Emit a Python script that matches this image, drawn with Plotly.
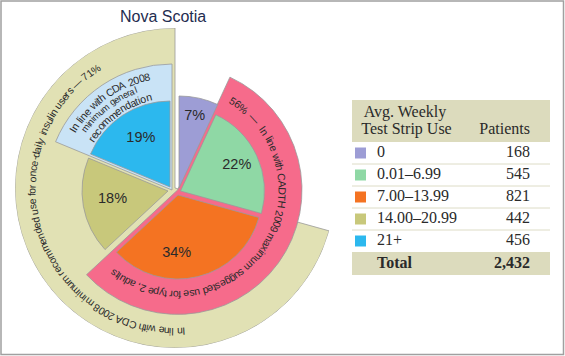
import numpy as np
import plotly.graph_objects as go

W, H = 565, 356

# ---------------- data ----------------
title = "Nova Scotia"
categories = ["0", "0.01–6.99", "7.00–13.99", "14.00–20.99", "21+"]
patients = [168, 545, 821, 442, 456]
slice_colors = ["#9d9dd5", "#8fd8a5", "#f47322", "#c8c87b", "#2cb8ee"]
header_left = ["Avg. Weekly", "Test Strip Use"]
header_right = "Patients"
total_label = "Total"
pink_group = [1, 2]          # CADTH 2009 maximum suggested use
khaki_group = [2, 3, 4]      # CDA 2008 once-daily insulin users
blue_group = [4]             # CDA 2008 general recommendation
pink_text = "{p}%  —  In line with CADTH 2009 maximum suggested use for type 2, adults"
khaki_text = "In line with CDA 2008 minimum recommended use for once-daily insulin users — {p}%"
blue_lines = ["In line with CDA 2008", "minimum general", "recommendation"]

# ---------------- derived ----------------
vals = np.array(patients, dtype=float)
total = vals.sum()
share = vals / total
cum = np.concatenate([[0.0], np.cumsum(share)]) * 360.0
starts, ends = cum[:-1], cum[1:]
mids = (starts + ends) / 2
widths = ends - starts


def group_span(idx):
    a0, a1 = starts[min(idx)], ends[max(idx)]
    return (a0 + a1) / 2, a1 - a0, share[idx].sum()


SANS = "Liberation Sans, Arial, sans-serif"
SERIF = "Liberation Serif, Times New Roman, serif"
TXT = "#2a2a2a"
EDGE = "#9a9a9a"
S = 160.0  # radial half-size of every polar subplot (px)

fig = go.Figure()
layout = {}


def domain(cx, cy):
    return dict(x=[max(0, (cx - S) / W), min(1, (cx + S) / W)],
                y=[max(0, 1 - (cy + S) / H), min(1, 1 - (cy - S) / H)])


layers = []
km, kw, ks = group_span(khaki_group)
bm, bw, bs = group_span(blue_group)
pm, pw, ps = group_span(pink_group)
layers.append(dict(c=(175, 188), R=160, th=km, w=kw, col="#e1e1b4"))
layers.append(dict(c=(172, 190), R=126, th=bm, w=bw, col="#c9e3f6"))
layers.append(dict(c=(177.6, 190), R=124.4, th=pm, w=pw, col="#f66b8b"))
# slices: center, radius, label radius, label angle offset
slice_geo = {3: ((168, 191), 86, 56, 2), 4: ((170, 187), 86, 57, 3),
             0: ((179, 188), 92, 73, 0), 1: ((180.5, 191), 84, 62, 0),
             2: ((178, 195), 84, 58, 15)}
for i in [3, 4, 0, 1, 2]:
    c, R, lr, dth = slice_geo[i]
    layers.append(dict(c=c, R=R, th=mids[i], w=widths[i], col=slice_colors[i],
                       lab=f"{round(share[i] * 100)}%", lr=lr, lth=mids[i] + dth))

for n, L in enumerate(layers, start=1):
    sp = "polar" if n == 1 else f"polar{n}"
    fig.add_trace(go.Barpolar(r=[L["R"]], theta=[L["th"]], width=[L["w"]], base=[0],
                              marker=dict(color=L["col"], line=dict(color=EDGE, width=0.8)),
                              subplot=sp, hoverinfo="skip", showlegend=False))
    if "lab" in L:
        fig.add_trace(go.Scatterpolar(r=[L["lr"]], theta=[L["lth"]], mode="text", text=[L["lab"]],
                                      textfont=dict(family=SANS, size=14.5, color=TXT),
                                      subplot=sp, hoverinfo="skip", showlegend=False))
    layout[sp] = dict(domain=domain(*L["c"]), bgcolor="rgba(0,0,0,0)",
                      radialaxis=dict(visible=False, range=[0, S]),
                      angularaxis=dict(visible=False, rotation=90, direction="clockwise"))

# ---------------- curved text ----------------
CW = {' ': 278, '%': 889, '—': 1000, '–': 556, '.': 278, ',': 278, '-': 333,
      'A': 667, 'C': 722, 'D': 722, 'H': 722, 'I': 278, 'T': 611,
      'a': 556, 'b': 556, 'c': 500, 'd': 556, 'e': 556, 'f': 278, 'g': 556, 'h': 556,
      'i': 222, 'j': 222, 'k': 500, 'l': 222, 'm': 833, 'n': 556, 'o': 556, 'p': 556,
      'q': 556, 'r': 333, 's': 500, 't': 278, 'u': 556, 'v': 500, 'w': 722, 'x': 500,
      'y': 500, 'z': 500}

annotations = []


def curved(text, cx, cy, r, a0, a1, max_size):
    ws = [CW.get(ch, 556) for ch in text]
    tot = float(sum(ws))
    arc = r * np.radians(a1 - a0)
    size = min(max_size, arc / (tot / 1000.0) * 1.04)
    acc = 0.0
    for ch, w in zip(text, ws):
        frac = (acc + w / 2) / tot
        acc += w
        if ch == ' ':
            continue
        th = a0 + (a1 - a0) * frac
        t = np.radians(th)
        px = cx + r * np.sin(t)
        py = cy - r * np.cos(t)
        ang = ((th + 180) % 360) - 180
        annotations.append(dict(x=px / W, y=1 - py / H, xref="paper", yref="paper", text=ch,
                                textangle=ang, showarrow=False, xanchor="center", yanchor="middle",
                                font=dict(family=SANS, size=size, color=TXT)))


curved(pink_text.format(p=round(ps * 100)), 177.6, 190, 105, 30.5, 219, 11)
curved(khaki_text.format(p=round(ks * 100)), 175, 188, 143, 176, 328, 11)
for line, r, a0, a1 in zip(blue_lines, [116, 106, 95.5], [300.5, 303.5, 301.5], [349, 340.5, 347.5]):
    curved(line, 172, 190, r, a0, a1, 12)

annotations.append(dict(x=163 / W, y=1 - 16 / H, xref="paper", yref="paper", text=title,
                        showarrow=False, xanchor="center", yanchor="middle",
                        font=dict(family=SANS, size=16, color="#1f2d50")))

# ---------------- table ----------------
TX0, TX1, TY0, TY1 = 352, 550, 100, 275
HEAD, ROW = 42, 22
row_y = [HEAD + ROW * i + ROW / 2 for i in range(len(categories))]
tot_y = HEAD + ROW * len(categories) + (TY1 - TY0 - HEAD - ROW * len(categories)) / 2
tw = TX1 - TX0
shapes = []
fill = "#dcdbbd"
shapes.append(dict(type="rect", xref="x", yref="y", x0=0, x1=tw, y0=0, y1=HEAD,
                   fillcolor=fill, line=dict(width=0), layer="below"))
shapes.append(dict(type="rect", xref="x", yref="y", x0=0, x1=tw, y0=HEAD + ROW * len(categories),
                   y1=TY1 - TY0, fillcolor=fill, line=dict(width=0), layer="below"))
for k in range(1, len(categories)):
    yy = HEAD + ROW * k
    shapes.append(dict(type="line", xref="x", yref="y", x0=0, x1=tw, y0=yy, y1=yy,
                       line=dict(color="#dddcc6", width=1), layer="below"))

fig.add_trace(go.Scatter(x=[8.5] * len(categories), y=row_y, mode="markers",
                         marker=dict(symbol="square", size=11, color=slice_colors, line=dict(width=0)),
                         hoverinfo="skip", showlegend=False))
fig.add_trace(go.Scatter(x=[25] * len(categories) + [25], y=row_y + [tot_y], mode="text",
                         text=categories + [f"<b>{total_label}</b>"], textposition="middle right",
                         textfont=dict(family=SERIF, size=16, color=TXT), hoverinfo="skip", showlegend=False))
fig.add_trace(go.Scatter(x=[178] * (len(categories) + 1), y=row_y + [tot_y], mode="text",
                         text=[f"{v:,}" for v in patients] + [f"<b>{int(total):,}</b>"],
                         textposition="middle left",
                         textfont=dict(family=SERIF, size=16, color=TXT), hoverinfo="skip", showlegend=False))
fig.add_trace(go.Scatter(x=[53, 54.5], y=[13, 30], mode="text", text=header_left,
                         textposition="middle center",
                         textfont=dict(family=SERIF, size=16, color=TXT), hoverinfo="skip", showlegend=False))
fig.add_trace(go.Scatter(x=[178], y=[30], mode="text", text=[header_right], textposition="middle left",
                         textfont=dict(family=SERIF, size=16, color=TXT), hoverinfo="skip", showlegend=False))

shapes.append(dict(type="rect", xref="paper", yref="paper", x0=1 / W, x1=563.5 / W, y0=1 - 354.5 / H,
                   y1=1 - 1 / H, line=dict(color="#a0a0a0", width=1.5), fillcolor="rgba(0,0,0,0)"))

fig.update_layout(
    width=W, height=H, margin=dict(l=0, r=0, t=0, b=0),
    paper_bgcolor="white", plot_bgcolor="rgba(0,0,0,0)",
    showlegend=False, hovermode=False,
    xaxis=dict(domain=[TX0 / W, TX1 / W], range=[0, tw], visible=False, fixedrange=True),
    yaxis=dict(domain=[1 - TY1 / H, 1 - TY0 / H], range=[TY1 - TY0, 0], visible=False, fixedrange=True),
    shapes=shapes, annotations=annotations, **layout)

fig.write_html("out.html", config={"displayModeBar": False, "staticPlot": True},
               post_script="document.body.style.margin='0px';")
